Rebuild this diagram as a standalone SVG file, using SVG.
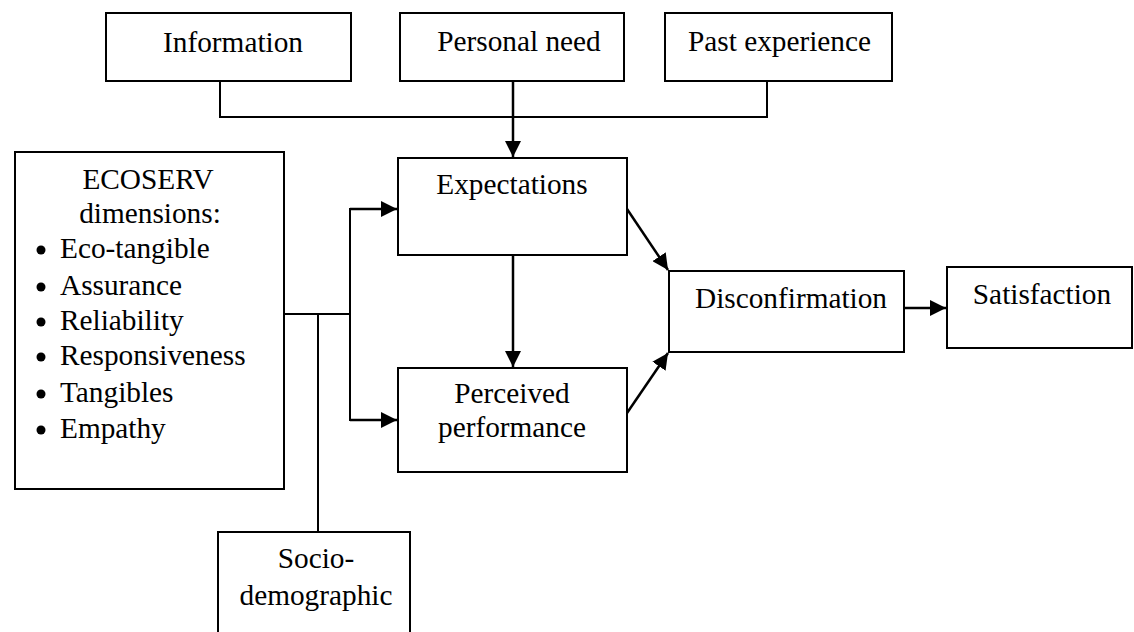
<svg xmlns="http://www.w3.org/2000/svg" width="1134" height="632" viewBox="0 0 1134 632">
  <style>
    .box { fill: #fff; stroke: #000; stroke-width: 2; }
    .lbl { font-size: 29.3px; fill: #000; }
    .c { text-anchor: middle; }
    .wire { fill: none; stroke: #000; stroke-width: 2; }
    .arr { fill: none; stroke: #000; stroke-width: 2.5; }
  </style>
  <defs>
    <marker id="arrow" markerWidth="16" markerHeight="16" refX="16" refY="8" orient="auto" markerUnits="userSpaceOnUse">
      <path d="M0,0 L16,8 L0,16 Z" fill="#000"/>
    </marker>
  </defs>
  <rect width="1134" height="632" fill="#fff"/>

  <!-- connectors -->
  <g id="connectors">
    <polyline class="wire" points="220,81 220,117 767,117 767,81"/>
    <line class="arr" x1="513" y1="81" x2="513" y2="157" marker-end="url(#arrow)"/>
    <line class="arr" x1="513" y1="255" x2="513" y2="367" marker-end="url(#arrow)"/>
    <polyline class="wire" points="284,314 350,314"/>
    <polyline class="wire" points="360,209 350,209 350,420 360,420"/>
    <line class="arr" x1="350" y1="209" x2="397" y2="209" marker-end="url(#arrow)"/>
    <line class="arr" x1="350" y1="420" x2="397" y2="420" marker-end="url(#arrow)"/>
    <line class="wire" x1="318" y1="314" x2="318" y2="532"/>
    <line class="arr" x1="627" y1="209" x2="668" y2="270" marker-end="url(#arrow)"/>
    <line class="arr" x1="627" y1="413" x2="668" y2="353" marker-end="url(#arrow)"/>
    <line class="arr" x1="904" y1="308" x2="946" y2="308" marker-end="url(#arrow)"/>
  </g>

  <g font-family="'Liberation Serif', 'Times New Roman', Times, serif">
  <g id="information">
    <rect class="box" x="106" y="13" width="245" height="68"/>
    <text class="lbl" x="233" y="52" text-anchor="middle">Information</text>
  </g>
  <g id="personal-need">
    <rect class="box" x="400" y="13" width="224" height="68"/>
    <text class="lbl" x="519" y="51" text-anchor="middle">Personal need</text>
  </g>
  <g id="past-experience">
    <rect class="box" x="665" y="13" width="227" height="68"/>
    <text class="lbl" x="688" y="51">Past experience</text>
  </g>
  <g id="ecoserv">
    <rect class="box" x="15" y="152" width="269" height="337"/>
    <text class="lbl c" x="148" y="189">ECOSERV</text>
    <text class="lbl c" x="150" y="223">dimensions:</text>
    <g>
      <circle cx="41" cy="250" r="4.5"/>
      <circle cx="41" cy="287" r="4.5"/>
      <circle cx="41" cy="322" r="4.5"/>
      <circle cx="41" cy="357" r="4.5"/>
      <circle cx="41" cy="394" r="4.5"/>
      <circle cx="41" cy="430" r="4.5"/>
    </g>
    <text class="lbl" x="60" y="258">Eco-tangible</text>
    <text class="lbl" x="60" y="295">Assurance</text>
    <text class="lbl" x="60" y="330">Reliability</text>
    <text class="lbl" x="60" y="365">Responsiveness</text>
    <text class="lbl" x="60" y="402">Tangibles</text>
    <text class="lbl" x="60" y="438">Empathy</text>
  </g>
  <g id="expectations">
    <rect class="box" x="398" y="158" width="229" height="97"/>
    <text class="lbl c" x="512" y="194">Expectations</text>
  </g>
  <g id="perceived-performance">
    <rect class="box" x="398" y="368" width="229" height="104"/>
    <text class="lbl c" x="512" y="403">Perceived</text>
    <text class="lbl c" x="512" y="437">performance</text>
  </g>
  <g id="disconfirmation">
    <rect class="box" x="669" y="271" width="235" height="81"/>
    <text class="lbl c" x="791" y="308">Disconfirmation</text>
  </g>
  <g id="satisfaction">
    <rect class="box" x="947" y="267" width="185" height="81"/>
    <text class="lbl c" x="1042" y="304">Satisfaction</text>
  </g>
  <g id="socio-demographic">
    <rect class="box" x="218" y="532" width="192" height="110"/>
    <text class="lbl c" x="316" y="568">Socio-</text>
    <text class="lbl c" x="316" y="605">demographic</text>
  </g>
  </g>
</svg>
